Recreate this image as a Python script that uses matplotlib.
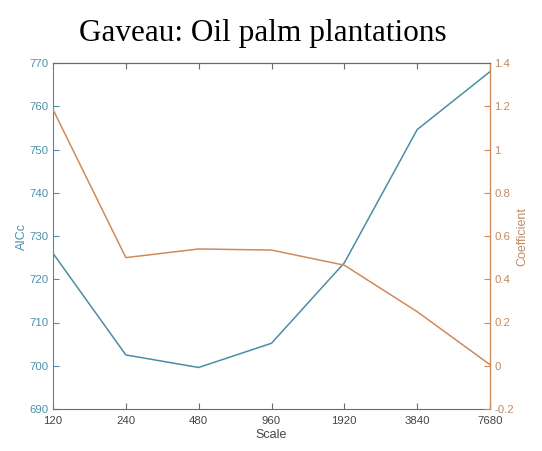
import matplotlib
matplotlib.use("Agg")
import matplotlib.pyplot as plt

scales = [120, 240, 480, 960, 1920, 3840, 7680]
aicc = [726.0, 702.5, 699.6, 705.2, 723.8, 754.6, 768.0]
coefficient = [1.185, 0.50, 0.54, 0.535, 0.465, 0.25, 0.005]

BLUE = "#4a8ea3"
ORANGE = "#cf8a5c"
BLUE_TXT = "#4a90aa"
ORANGE_TXT = "#c08a63"
GRAY = "#6a6a6a"

plt.rcParams["font.family"] = ["Liberation Sans", "DejaVu Sans"]

fig = plt.figure(figsize=(5.42, 4.51), dpi=100)
ax = fig.add_axes([53 / 542, 42 / 451, 437 / 542, 346 / 451])
ax2 = ax.twinx()

ax.plot(scales, aicc, color=BLUE, lw=1.1)
ax2.plot(scales, coefficient, color=ORANGE, lw=1.1)

# scales double each step, so a base-2 log axis spaces them evenly
ax.set_xscale("log", base=2)
ax.set_xlim(scales[0], scales[-1])
ax.set_xticks(scales)
ax.set_xticklabels([str(s) for s in scales])
ax.minorticks_off()
ax2.minorticks_off()

ax.set_ylim(690, 770)
ax.set_yticks(range(690, 771, 10))
ax2.set_ylim(-0.2, 1.4)
ax2.set_yticks([-0.2, 0, 0.2, 0.4, 0.6, 0.8, 1, 1.2, 1.4])
ax2.set_yticklabels(["-0.2", "0", "0.2", "0.4", "0.6", "0.8", "1", "1.2", "1.4"])

ax.tick_params(axis="x", direction="in", top=True, length=4, labelsize=8.2,
               colors=GRAY, labelcolor="#444444", pad=5)
ax.tick_params(axis="y", direction="in", length=4, labelsize=8.2,
               colors=BLUE, labelcolor=BLUE_TXT, pad=3)
ax2.tick_params(axis="y", direction="in", length=4, labelsize=8.2,
                colors=ORANGE, labelcolor=ORANGE_TXT, pad=3)

ax.spines["left"].set_color(BLUE)
ax.spines["bottom"].set_color(GRAY)
ax.spines["top"].set_color(GRAY)
ax2.spines["right"].set_color(ORANGE)
ax2.spines["left"].set_visible(False)
ax2.spines["top"].set_color(GRAY)
ax2.spines["bottom"].set_visible(False)

ax.set_xlabel("Scale", fontsize=9, color="#444444", labelpad=2)
ax.set_ylabel("AICc", fontsize=9, color=BLUE_TXT, labelpad=1)
ax2.set_ylabel("Coefficient", fontsize=9, color=ORANGE_TXT, labelpad=2)

fig.text(0.485, 1 - 33 / 451, "Gaveau: Oil palm plantations", ha="center",
         va="center", fontsize=22.5, family="Liberation Serif", color="black")

fig.savefig("out.png", dpi=100)
